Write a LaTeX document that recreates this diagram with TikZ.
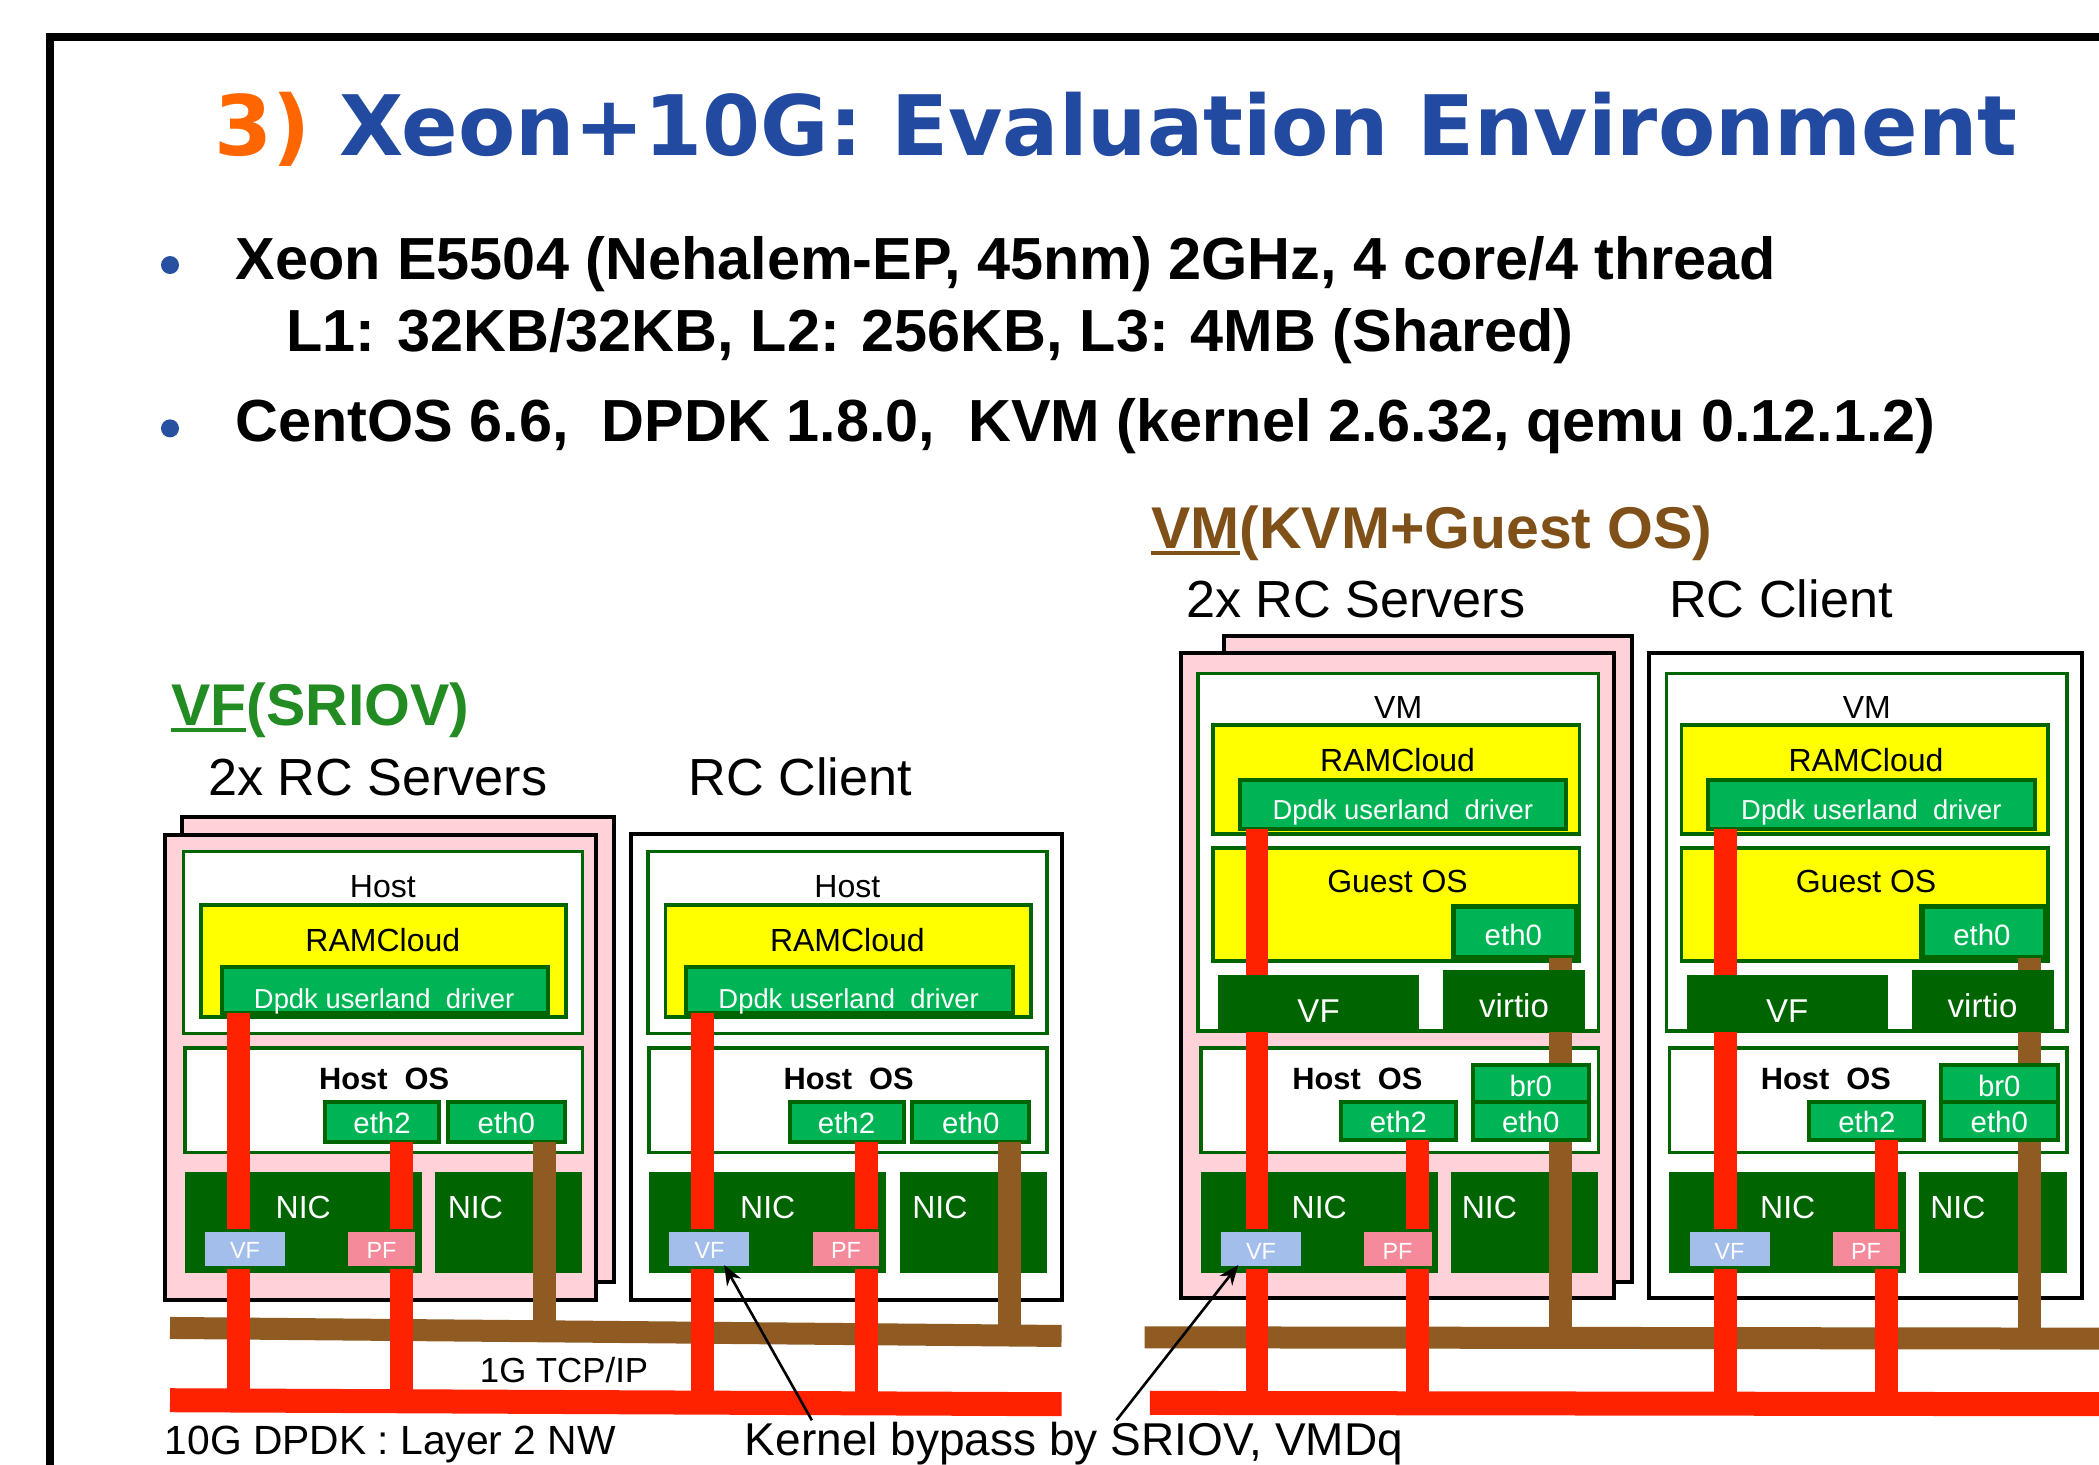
\documentclass[tikz,border=0pt]{standalone}
\usepackage{fontspec}
\setmainfont{Liberation Sans}
\newfontfamily\titlefont{DejaVu Sans}
\usetikzlibrary{arrows.meta,calc}
\definecolor{dkgreen}{RGB}{0,100,0}
\definecolor{mdgreen}{RGB}{0,180,85}
\definecolor{ylw}{RGB}{255,255,0}
\definecolor{pinkbg}{RGB}{255,210,218}
\definecolor{redc}{RGB}{255,34,0}
\definecolor{brownc}{RGB}{143,91,35}
\definecolor{vfblue}{RGB}{163,190,234}
\definecolor{pfpink}{RGB}{245,138,155}
\definecolor{titleblue}{RGB}{33,74,160}
\definecolor{titleorange}{RGB}{255,102,0}
\definecolor{labgreen}{RGB}{34,139,34}
\definecolor{labbrown}{RGB}{128,80,25}
\definecolor{bulletblue}{RGB}{40,80,160}
\newcommand\fsz[1]{\fontsize{#1}{#1}\selectfont}
\newcommand\bx[6]{\node[#2, minimum width={(#5-(#3))*0.6693pt}, minimum height={(#6-(#4))*0.6693pt}] (#1) at ({(#3+#5)/2},{(#4+#6)/2}) {};}
\tikzset{
 every node/.style={inner sep=0pt, outer sep=0pt},
 outerbox/.style={draw=black, line width=2pt},
 srvbox/.style={outerbox, fill=pinkbg},
 clibox/.style={outerbox, fill=white},
 grnbox/.style={draw=dkgreen, line width=1.8pt, fill=white},
 ylwbox/.style={draw=dkgreen, line width=1.8pt, fill=ylw},
 ethbox/.style={draw=dkgreen, line width=2pt, fill=mdgreen},
 gethbox/.style={draw=dkgreen, line width=2.6pt, fill=mdgreen},
 nicbox/.style={fill=dkgreen},
 vfbox/.style={draw=dkgreen, line width=1.5pt, fill=vfblue},
 pfbox/.style={draw=dkgreen, line width=1.5pt, fill=pfpink},
 redv/.style={draw=redc, line width=11.4pt},
 brnv/.style={draw=brownc, line width=11.4pt},
 redbus/.style={draw=redc, line width=12pt},
 brnbus/.style={draw=brownc, line width=11pt},
 tblack/.style={text=black, font=\fsz{16}, anchor=base},
 twhite/.style={text=white, font=\fsz{16}, anchor=base},
 tsmall/.style={text=white, font=\fsz{11.7}, anchor=base},
 tbig/.style={anchor=base west, font=\fsz{26.1}},
 arr/.style={draw=black, line width=1.3pt, -{Stealth[length=10pt,width=8pt]}}
}
% host (SRIOV) group
\newcommand\hstbase[2]{\begin{scope}[shift={(#2,0)}]
\bx{#1host}{grnbox}{137}{636}{435}{772}
\bx{#1ram}{ylwbox}{150}{676}{423}{759.5}
\bx{#1dpdk}{ethbox}{165.6}{722}{409.6}{757}
\bx{#1hos}{grnbox}{138}{783}{435}{861}
\bx{#1nica}{nicbox}{138}{875.5}{315}{951}
\bx{#1nicb}{nicbox}{325}{875.5}{435}{951}
\end{scope}}
\newcommand\hsttop[2]{\begin{scope}[shift={(#2,0)}]
\coordinate (#1xa) at (178,0);
\coordinate (#1xb) at (300,0);
\coordinate (#1xc) at (407,0);
\bx{#1eth2}{ethbox}{242.8}{823}{328}{853}
\bx{#1eth0}{ethbox}{334.4}{823}{422}{853}
\draw[brnv] (#1xc |- #1eth0.south) -- (#1xc |- bbL);
\draw[redv] (#1xa |- #1dpdk.south) -- (#1xa |- rbL);
\draw[redv] (#1xb |- #1eth2.south) -- (#1xb |- rbL);
\bx{#1vf}{vfbox}{152}{919}{214}{947}
\bx{#1pf}{pfbox}{259}{919}{311}{947}
\node[tblack] (#1hostl) at (286,670.5) {Host};
\node[tblack] (#1raml) at (286,710.5) {RAMCloud};
\node[twhite, font=\fsz{13.7}] (#1dpdkl) at (287,753) {Dpdk userland\ \ driver};
\node[tblack, font=\bfseries\fsz{15.4}] (#1hosl) at (287,814) {Host\ \ OS};
\node[twhite, font=\fsz{14.7}] (#1eth2l) at (285.4,846.6) {eth2};
\node[twhite, font=\fsz{14.7}] (#1eth0l) at (378.2,846.6) {eth0};
\node[twhite] (#1nical) at (226.5,910) {NIC};
\node[twhite, anchor=base west] (#1nicbl) at (334.5,910) {NIC};
\node[tsmall] (#1vfl) at (183,940) {VF};
\node[tsmall] (#1pfl) at (285,940) {PF};
\end{scope}}
% VM group
\newcommand\vmbase[2]{\begin{scope}[shift={(#2,0)}]
\bx{#1vm}{grnbox}{895}{503}{1194}{770}
\bx{#1ram}{ylwbox}{906}{541.6}{1180}{623}
\bx{#1dpdk}{ethbox}{926}{582.7}{1170}{619}
\bx{#1gos}{ylwbox}{906}{633.5}{1180}{718}
\bx{#1hos}{grnbox}{897}{783}{1194}{861}
\bx{#1nica}{nicbox}{897}{875.5}{1074}{951}
\bx{#1nicb}{nicbox}{1083.6}{875.5}{1194}{951}
\end{scope}}
\newcommand\vmtop[2]{\begin{scope}[shift={(#2,0)}]
\coordinate (#1xa) at (939,0);
\coordinate (#1xb) at (1059,0);
\coordinate (#1xc) at (1166,0);
\bx{#1geth}{gethbox}{1085.7}{677}{1177.8}{715.6}
\bx{#1eth2}{ethbox}{1001.7}{823}{1087.6}{851.6}
\draw[brnv] (#1xc |- #1geth.south) -- (#1xc |- bbR);
\draw[redv] (#1xa |- #1dpdk.south) -- (#1xa |- rbR);
\draw[redv] (#1xb |- #1eth2.south) -- (#1xb |- rbR);
\bx{#1vfd}{nicbox}{910}{728.5}{1060}{770.6}
\bx{#1vio}{nicbox}{1078}{724.7}{1184}{770.6}
\bx{#1br}{ethbox}{1100}{795.6}{1187}{823.5}
\bx{#1eth0}{ethbox}{1100}{823.5}{1187}{851.6}
\bx{#1vf}{vfbox}{911}{919}{973}{947}
\bx{#1pf}{pfbox}{1018}{919}{1070.6}{947}
\node[tblack] (#1vml) at (1044.5,536.6) {VM};
\node[tblack] (#1raml) at (1044,576.5) {RAMCloud};
\node[twhite, font=\fsz{13.7}] (#1dpdkl) at (1048,612.5) {Dpdk userland\ \ driver};
\node[tblack] (#1gosl) at (1044,667) {Guest OS};
\node[twhite, font=\fsz{14.7}] (#1gethl) at (1130.5,706) {eth0};
\node[twhite, font=\fsz{16.5}] (#1vfdl) at (985,764) {VF};
\node[twhite, font=\fsz{16.5}] (#1viol) at (1131,760) {virtio};
\node[tblack, font=\bfseries\fsz{15.4}] (#1hosl) at (1014,814) {Host\ \ OS};
\node[twhite, font=\fsz{14.7}] (#1eth2l) at (1044.6,846) {eth2};
\node[twhite, font=\fsz{14.7}] (#1brl) at (1143.5,819) {br0};
\node[twhite, font=\fsz{14.7}] (#1eth0l) at (1143.5,846) {eth0};
\node[twhite] (#1nical) at (985.5,910) {NIC};
\node[twhite, anchor=base west] (#1nicbl) at (1092,910) {NIC};
\node[tsmall] (#1vfl) at (942,941) {VF};
\node[tsmall] (#1pfl) at (1044,941) {PF};
\end{scope}}
\begin{document}
\begin{tikzpicture}[x=0.6693pt,y=-0.6693pt]
\useasboundingbox (0,0) rectangle (1568,1094.3);
\clip (0,0) rectangle (1568,1094.3);
\fill[white] (0,0) rectangle (1568,1094.3);
% frame
\coordinate (fr1) at (37.5,1200);
\coordinate (fr2) at (37.5,27.7);
\coordinate (fr3) at (1700,27.7);
\draw[line width=3.7pt] (fr1) -- (fr2) -- (fr3);
% title and bullets
\node[anchor=base west, font=\titlefont\bfseries\fsz{41.7}] (title) at (160,115.8) {\textcolor{titleorange}{3)} \textcolor{titleblue}{Xeon+10G: Evaluation Environment}};
\node[circle, fill=bulletblue, minimum size=9pt] (b1) at (127,198) {};
\node[circle, fill=bulletblue, minimum size=9pt] (b2) at (127,320) {};
\node[anchor=base west, font=\bfseries\fsz{29.7}] (l1) at (176,208.6) {Xeon E5504 (Nehalem-EP, 45nm) 2GHz, 4 core/4 thread};
\node[anchor=base west, font=\bfseries\fsz{29.7}] (l2) at (214,262.7) {L1: 32KB/32KB, L2: 256KB, L3: 4MB (Shared)};
\node[anchor=base west, font=\bfseries\fsz{29.7}] (l3) at (176,330) {CentOS 6.6,\ \ DPDK 1.8.0,\ \ KVM (kernel 2.6.32, qemu 0.12.1.2)};
% group labels
\node[anchor=base west, text=labgreen, font=\bfseries\fsz{29.45}] (vflbl) at (128,542) {VF(SRIOV)};
\draw[labgreen, line width=1.8pt] ([yshift=-2.2pt]vflbl.base west) -- ++(56,0);
\node[tbig] (lsrv) at (155.4,594) {2x RC Servers};
\node[tbig] (lcli) at (514.3,594) {RC Client};
\node[anchor=base west, text=labbrown, font=\bfseries\fsz{29.45}] (vmlbl) at (860,410) {VM(KVM+Guest OS)};
\draw[labbrown, line width=1.8pt] ([yshift=-2.2pt]vmlbl.base west) -- ++(66,0);
\node[tbig] (rsrv) at (886,461) {2x RC Servers};
\node[tbig] (rcli) at (1247,461) {RC Client};
% outer boxes
\bx{sbackL}{srvbox}{136}{610}{459}{958}
\bx{sfrontL}{srvbox}{123}{624}{445}{971}
\bx{cboxL}{clibox}{471}{623}{793}{971}
\bx{sbackR}{srvbox}{914}{475}{1219}{957.5}
\bx{sfrontR}{srvbox}{882}{488}{1206}{970}
\bx{cboxR}{clibox}{1232}{488}{1555}{970}
% containers
\hstbase{sL}{0}
\hstbase{cL}{347}
\vmbase{sR}{0}
\vmbase{cR}{350}
% buses
\coordinate (bbL) at (127,992);
\coordinate (bbL2) at (793,998);
\coordinate (rbL) at (127,1046);
\coordinate (rbL2) at (793,1049);
\coordinate (bbR) at (855,999);
\coordinate (bbR2) at (1575,1000);
\coordinate (rbR) at (859,1048);
\coordinate (rbR2) at (1575,1049);
\draw[brnbus] (bbL) -- (bbL2);
\draw[brnbus] (bbR) -- (bbR2);
\draw[redbus] (rbL) -- (rbL2);
\draw[redbus] (rbR) -- (rbR2);
% tops
\hsttop{sL}{0}
\hsttop{cL}{347}
\vmtop{sR}{0}
\vmtop{cR}{350}
% bottom texts and arrows
\node[anchor=base west, font=\fsz{17.4}] (tcp) at (358.5,1033) {1G TCP/IP};
\node[anchor=base west, font=\fsz{20.4}] (dpdk10) at (123,1086.5) {10G DPDK : Layer 2 NW};
\node[anchor=base west, font=\fsz{23}] (kb) at (556.5,1087) {Kernel bypass by SRIOV, VMDq};
\coordinate (a1s) at (606.5,1061);
\coordinate (a2s) at (834,1061);
\draw[arr] (a1s) -- ($(cLvf.south)+(11,-2)$);
\draw[arr] (a2s) -- ($(sRvf.south)+(-17,-2)$);
\end{tikzpicture}
\end{document}
